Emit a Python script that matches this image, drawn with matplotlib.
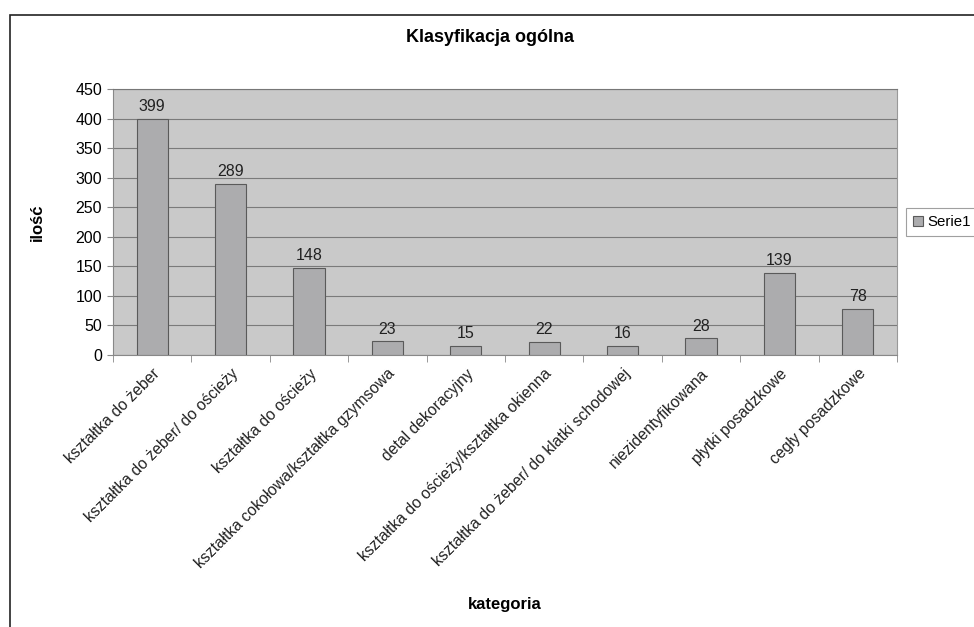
import numpy as np
import matplotlib
matplotlib.use("Agg")
from matplotlib import pyplot as plt
from matplotlib.patches import Rectangle

plt.rcParams['font.family'] = ['Liberation Sans', 'DejaVu Sans']

categories = [
    'kształtka do żeber',
    'kształtka do żeber/ do ościeży',
    'kształtka do ościeży',
    'kształtka cokołowa/kształtka gzymsowa',
    'detal dekoracyjny',
    'kształtka do ościeży/kształtka okienna',
    'kształtka do żeber/ do klatki schodowej',
    'niezidentyfikowana',
    'płytki posadzkowe',
    'cegły posadzkowe',
]
values = [399, 289, 148, 23, 15, 22, 16, 28, 139, 78]
yticks = [0, 50, 100, 150, 200, 250, 300, 350, 400, 450]

W, H = 974, 627
fig = plt.figure(figsize=(W / 100, H / 100), dpi=100)
# outer chart frame (cut off on the right and bottom)
fig.patches.append(Rectangle((10 / W, -0.1), 1.1, 1 - 15 / H + 0.1,
                             transform=fig.transFigure, fill=False,
                             edgecolor='#222222', linewidth=1.2))

ax = fig.add_axes([113 / W, 1 - 355 / H, (897 - 113) / W, (355 - 89) / H])
ax.set_facecolor('#c9c9c9')
x = np.arange(len(categories))
ax.bar(x, values, width=0.4, color='#acacae', edgecolor='#5a5a5a',
       linewidth=0.8, zorder=3, label='Serie1')
for xi, v in zip(x, values):
    ax.text(xi, v + 8, str(v), ha='center', va='bottom', fontsize=11.5,
            color='#222222')

ax.set_xlim(-0.5, len(categories) - 0.5)
ax.set_ylim(0, 450)
ax.set_yticks(yticks)
ax.yaxis.grid(True, color='#7a7a7a', linewidth=0.8, zorder=1)
ax.set_axisbelow(True)
ax.tick_params(axis='y', labelsize=11.5, length=4, color='#888888', pad=4)
ax.set_xticks(x)
ax.set_xticklabels(categories, rotation=45, ha='right', rotation_mode='anchor',
                   fontsize=11.3, color='#222222')
ax.set_xticks(np.arange(-0.5, len(categories)), minor=True)
ax.tick_params(axis='x', which='major', length=0, pad=8)
ax.tick_params(axis='x', which='minor', length=5, color='#888888')
for s in ['left', 'bottom']:
    ax.spines[s].set_color('#888888')
ax.spines['top'].set_color('#777777')
ax.spines['right'].set_color('#999999')

ax.set_ylabel('ilość', fontsize=12, fontweight='bold', labelpad=22)
fig.text(505 / W, 1 - 605 / H, 'kategoria', ha='center', va='center',
         fontsize=12, fontweight='bold')
fig.text(490 / W, 1 - 38 / H, 'Klasyfikacja ogólna', ha='center', va='center',
         fontsize=13, fontweight='bold')

leg = fig.legend(loc='center left', bbox_to_anchor=(903 / W, 1 - 222 / H),
                 fontsize=10.8, frameon=True, fancybox=False,
                 handlelength=0.7, handleheight=0.7, handletextpad=0.3,
                 borderpad=0.45, borderaxespad=0.2)
leg.get_frame().set_edgecolor('#888888')
leg.get_frame().set_linewidth(0.8)

fig.savefig('out.png', dpi=100)
